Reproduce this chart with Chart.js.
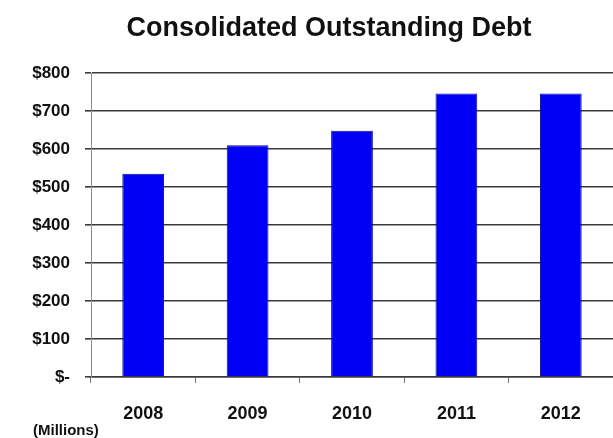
<!DOCTYPE html>
<html lang="en">
<head>
  <meta charset="UTF-8">
  <title>Consolidated Outstanding Debt</title>
  <script src="https://cdn.jsdelivr.net/npm/chart.js"></script>
  <style>
    body {
      margin: 0;
      background-color: #ffffff;
      overflow: hidden;
    }
    #debtChart {
      display: block;
    }
  </style>
</head>
<body>
  <canvas id="debtChart" width="613" height="438"></canvas>

  <script>
    const years = ['2008', '2009', '2010', '2011', '2012'];
    const debt = [535, 610, 648, 746, 746];   // $ millions
    const yTickLabels = ['$-', '$100', '$200', '$300', '$400', '$500', '$600', '$700', '$800'];

    const chartTitle = 'Consolidated Outstanding Debt';
    const unitNote = '(Millions)';

    const fontFamily = '"Liberation Sans", Arial, sans-serif';

    // title and unit note are placed by hand, the built-in title can only center on the canvas
    const captionPlugin = {
      id: 'captions',
      afterDraw(chart) {
        const c = chart.ctx;
        c.save();
        c.fillStyle = '#111111';
        c.textBaseline = 'alphabetic';
        c.font = 'bold 27px ' + fontFamily;
        c.textAlign = 'center';
        c.fillText(chartTitle, 329, 36);
        c.font = 'bold 15px ' + fontFamily;
        c.textAlign = 'left';
        c.fillText(unitNote, 33, 435);
        c.restore();
      }
    };

    const ctx = document.getElementById('debtChart').getContext('2d');

    const debtChart = new Chart(ctx, {
      type: 'bar',
      data: {
        labels: years,
        datasets: [{
          label: 'Debt',
          data: debt,
          backgroundColor: '#0000f5',
          borderColor: '#0a0a9a',
          borderWidth: 1,
          barPercentage: 0.4,
          categoryPercentage: 1.0
        }]
      },
      options: {
        responsive: false,
        animation: false,
        devicePixelRatio: 1,
        layout: {
          padding: { top: 73, left: 31, right: 0, bottom: 14 }
        },
        plugins: {
          legend: { display: false },
          title: { display: false },
          tooltip: { enabled: false }
        },
        scales: {
          x: {
            afterFit: (scale) => { scale.height = 47; },
            grid: {
              offset: true,
              drawOnChartArea: false,
              drawTicks: true,
              tickLength: 6,
              color: '#777777'
            },
            border: { color: '#3c3c3c', width: 1.5 },
            ticks: {
              color: '#111111',
              padding: 20,
              font: { family: fontFamily, size: 18, weight: 'bold' }
            }
          },
          y: {
            min: 0,
            max: 800,
            afterFit: (scale) => { scale.width = 60; },
            grid: {
              color: '#3a3a3a',
              lineWidth: 1.6,
              tickLength: 6
            },
            border: { color: '#8a8a8a', width: 1 },
            ticks: {
              stepSize: 100,
              color: '#111111',
              padding: 15,
              font: { family: fontFamily, size: 17, weight: 'bold' },
              callback: (value, index) => yTickLabels[index]
            }
          }
        }
      },
      plugins: [captionPlugin]
    });
  </script>
</body>
</html>
